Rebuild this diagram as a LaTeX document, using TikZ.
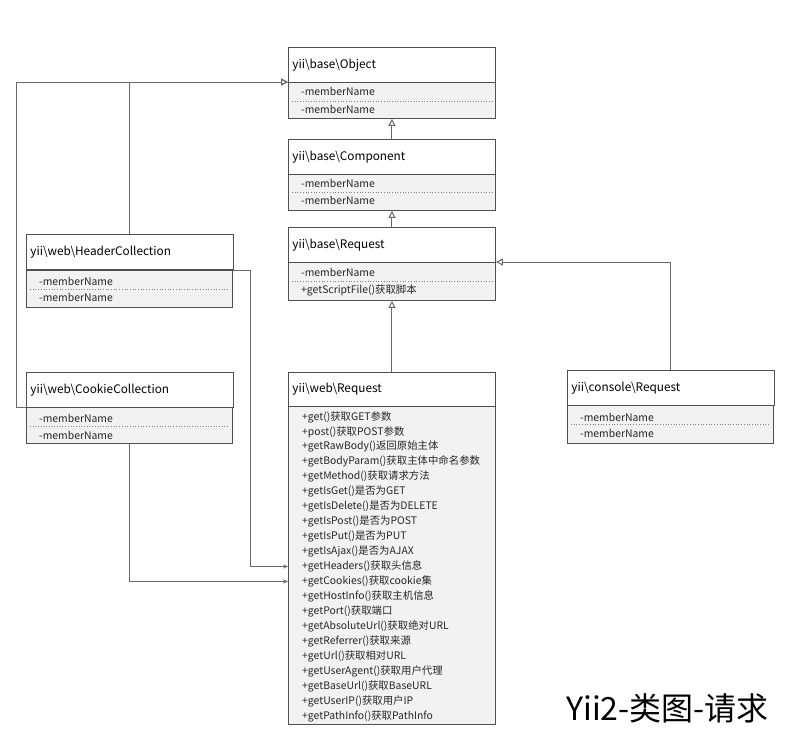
\documentclass[tikz,border=0pt]{standalone}
\usepackage{fontspec}
\setmainfont{Noto Sans CJK SC}
\usetikzlibrary{arrows.meta}
\newcommand\bs{\textbackslash}
\definecolor{boxline}{RGB}{80,80,80}
\definecolor{connline}{RGB}{105,105,105}
\definecolor{compfill}{RGB}{242,242,242}
\begin{document}
\begin{tikzpicture}[x=1pt,y=-1pt,
  classhead/.style={draw=boxline, line width=0.9pt, fill=white, anchor=north west,
    minimum width=207pt, minimum height=35pt, inner sep=0pt, text width=199pt,
    inner xsep=4pt, align=left, font=\fontsize{11.8}{13}\selectfont},
  comp/.style={draw=boxline, line width=0.9pt, fill=compfill, anchor=north west,
    minimum width=207pt, inner sep=0pt},
  member/.style={anchor=west, inner sep=0pt, font=\fontsize{10.4}{11}\selectfont, text=black!85},
  sep/.style={draw=gray, dotted, line width=0.7pt},
  gen/.style={draw=connline, line width=1pt, -{Triangle[open, length=7pt, width=7pt]}},
  assoc/.style={draw=connline, line width=1pt, -{Stealth[length=5pt, width=4pt]}},
  title/.style={anchor=west, inner sep=0pt, font=\fontsize{32}{35}\selectfont}]
\useasboundingbox (0,0) rectangle (800,739);

% yii\base\Object
\node[classhead] (objH) at (288,47) {yii\bs base\bs Object};
\node[comp, minimum height=36pt] (objC) at (288,82) {};
\node[member] (objM1) at (301,91) {-memberName};
\node[member] (objM2) at (301,109) {-memberName};
\draw[sep] ([xshift=4pt,yshift=-19pt]objC.north west) -- ([xshift=-4pt,yshift=-19pt]objC.north east);

% yii\base\Component
\node[classhead] (compH) at (288,139) {yii\bs base\bs Component};
\node[comp, minimum height=36pt] (compC) at (288,174) {};
\node[member] (compM1) at (301,183) {-memberName};
\node[member] (compM2) at (301,200) {-memberName};
\draw[sep] ([xshift=4pt,yshift=-18pt]compC.north west) -- ([xshift=-4pt,yshift=-18pt]compC.north east);

% yii\base\Request
\node[classhead] (breqH) at (288,227) {yii\bs base\bs Request};
\node[comp, minimum height=38pt] (breqC) at (288,262) {};
\node[member] (breqM1) at (301,272) {-memberName};
\node[member] (breqM2) at (301,290) {+getScriptFile()获取脚本};
\draw[sep] ([xshift=4pt,yshift=-19pt]breqC.north west) -- ([xshift=-4pt,yshift=-19pt]breqC.north east);

% yii\web\HeaderCollection
\node[classhead, minimum width=206pt] (hcH) at (26,234) {yii\bs web\bs HeaderCollection};
\node[comp, minimum width=206pt, minimum height=37pt] (hcC) at (26,270) {};
\node[member] (hcM1) at (39,281) {-memberName};
\node[member] (hcM2) at (39,297) {-memberName};
\draw[sep] ([xshift=4pt,yshift=-19pt]hcC.north west) -- ([xshift=-4pt,yshift=-19pt]hcC.north east);

% yii\web\CookieCollection
\node[classhead, minimum width=206pt] (ccH) at (26,372) {yii\bs web\bs CookieCollection};
\node[comp, minimum width=206pt, minimum height=36pt] (ccC) at (26,407) {};
\node[member] (ccM1) at (39,418) {-memberName};
\node[member] (ccM2) at (39,435) {-memberName};
\draw[sep] ([xshift=4pt,yshift=-19pt]ccC.north west) -- ([xshift=-4pt,yshift=-19pt]ccC.north east);

% yii\console\Request
\node[classhead, minimum width=206pt] (conH) at (567,370) {yii\bs console\bs Request};
\node[comp, minimum width=206pt, minimum height=38pt] (conC) at (567,405) {};
\node[member] (conM1) at (580,417) {-memberName};
\node[member] (conM2) at (580,433) {-memberName};
\draw[sep] ([xshift=4pt,yshift=-19pt]conC.north west) -- ([xshift=-4pt,yshift=-19pt]conC.north east);

% yii\web\Request
\node[classhead, minimum height=34pt] (wreqH) at (288,372) {yii\bs web\bs Request};
\node[comp, minimum height=318pt] (wbody) at (288,406) {};
\foreach \t [count=\i] in {
  +get()获取GET参数,
  +post()获取POST参数,
  +getRawBody()返回原始主体,
  +getBodyParam()获取主体中命名参数,
  +getMethod()获取请求方法,
  +getIsGet()是否为GET,
  +getIsDelete()是否为DELETE,
  +getIsPost()是否为POST,
  +getIsPut()是否为PUT,
  +getIsAjax()是否为AJAX,
  +getHeaders()获取头信息,
  +getCookies()获取cookie集,
  +getHostInfo()获取主机信息,
  +getPort()获取端口,
  +getAbsoluteUrl()获取绝对URL,
  +getReferrer()获取来源,
  +getUrl()获取相对URL,
  +getUserAgent()获取用户代理,
  +getBaseUrl()获取BaseURL,
  +getUserIP()获取用户IP,
  +getPathInfo()获取PathInfo}
  {\node[member] (r\i) at (302,{417+(\i-1)*14.95}) {\t};}

% generalizations
\draw[gen] (compH.north) -- (objC.south);
\draw[gen] (breqH.north) -- (compC.south);
\draw[gen] (wreqH.north) -- (breqC.south);
\draw[gen] (conH.north) |- (breqC.north east);
\draw[gen] (hcH.north) |- (objC.north west);
\coordinate (ccBend) at (16,407);
\draw[gen] (ccC.north west) -- (ccBend) |- (objC.north west);

% associations
\coordinate (hcBend) at (250,270);
\draw[assoc] (hcC.north east) -- (hcBend) |- (r11.west -| wbody.west);
\draw[assoc] (ccC.south) |- (r12.west -| wbody.west);

% title
\node[title] (ttl) at (566,708) {Yii2-类图-请求};
\end{tikzpicture}
\end{document}
